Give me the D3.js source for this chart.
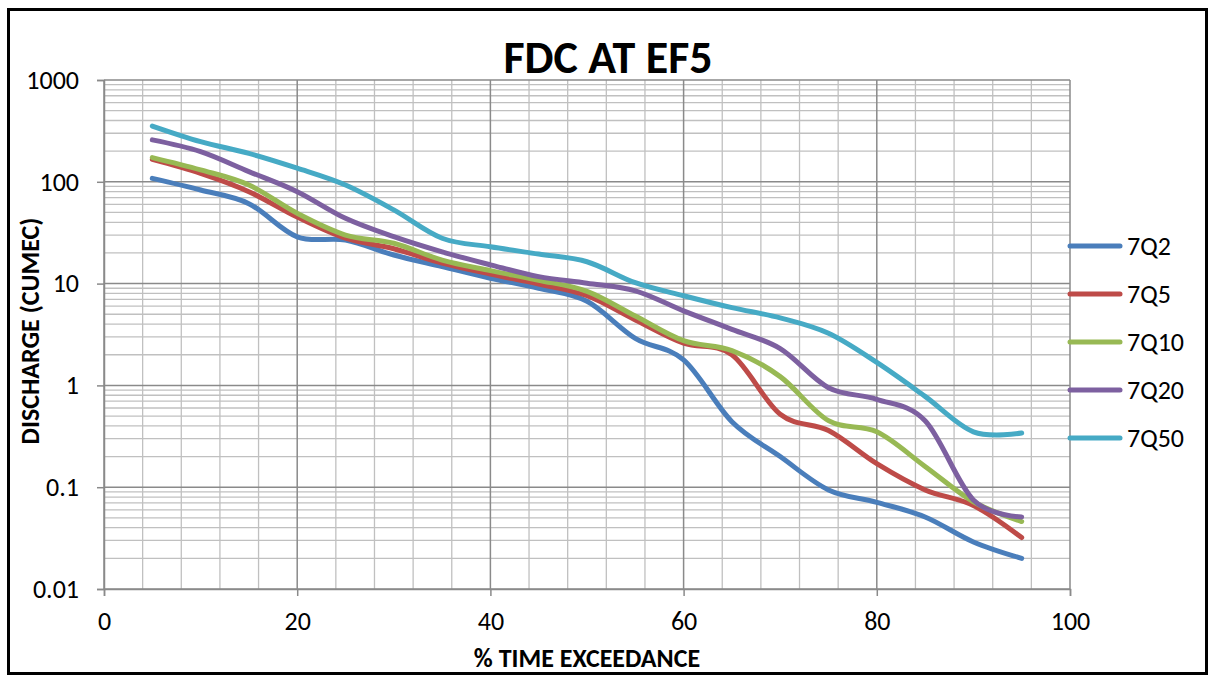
<!DOCTYPE html>
<html>
<head>
<meta charset="utf-8">
<script src="https://cdn.jsdelivr.net/npm/d3@7"></script>
<style>
  html, body { margin: 0; padding: 0; background: #fff; }
  svg { display: block; }
  text { font-family: Carlito, Calibri, "Liberation Sans", Arial, sans-serif; }
</style>
</head>
<body>
<svg id="chart" width="1211" height="675"></svg>
<script>
// ---- data ----
const exceedance = [5, 10, 15, 20, 25, 30, 35, 40, 45, 50, 55, 60, 65, 70, 75, 80, 85, 90, 95];
const seriesNames = ["7Q2", "7Q5", "7Q10", "7Q20", "7Q50"];
const q7q2  = [108, 83, 61, 28.8, 26.8, 19.1, 14.7, 11.3, 9.0, 6.7, 2.9, 1.78, 0.44, 0.2, 0.094, 0.071, 0.051, 0.029, 0.020];
const q7q5  = [166, 121, 80, 45, 27.9, 22, 15.9, 12.4, 9.9, 7.6, 4.4, 2.6, 2.0, 0.52, 0.36, 0.17, 0.094, 0.066, 0.032];
const q7q10 = [173, 131, 93, 49, 30, 24.9, 17, 13.4, 10.8, 8.4, 4.8, 2.75, 2.2, 1.22, 0.45, 0.35, 0.16, 0.072, 0.046];
const q7q20 = [258, 198, 126, 80, 43.8, 28.9, 20.5, 15.3, 11.7, 10.1, 8.5, 5.4, 3.55, 2.3, 0.95, 0.73, 0.45, 0.075, 0.051];
const q7q50 = [353, 248, 190, 136, 93, 53, 27.9, 23, 19.5, 16.4, 10.2, 7.6, 5.8, 4.6, 3.25, 1.68, 0.78, 0.35, 0.34];
const seriesColors = ["#4A7EBB", "#BE4B48", "#98B954", "#7D60A0", "#46AAC5"];
const xTicks = [0, 20, 40, 60, 80, 100];
const yTicks = [0.01, 0.1, 1, 10, 100, 1000];
const yTickLabels = ["0.01", "0.1", "1", "10", "100", "1000"];
const chartTitle = "FDC AT EF5";
const xTitle = "% TIME EXCEEDANCE";
const yTitle = "DISCHARGE (CUMEC)";

const allSeries = [q7q2, q7q5, q7q10, q7q20, q7q50];

// ---- layout ----
const svg = d3.select("#chart");
const pL = 104, pR = 1070, pT = 80, pB = 589;
const fontStack = 'Carlito, Calibri, "Liberation Sans", Arial, sans-serif';

const x = d3.scaleLinear().domain([0, 100]).range([pL, pR]);
const y = d3.scaleLog().domain([0.01, 1000]).range([pB, pT]);

// outer frame
svg.append("rect").attr("x", 8.5).attr("y", 9.5).attr("width", 1198).attr("height", 664)
  .attr("fill", "#fff").attr("stroke", "#000").attr("stroke-width", 3);

// minor gridlines
const g = svg.append("g");
const minorX = d3.range(4, 100, 4).filter(v => v % 20 !== 0);
g.selectAll(".mx").data(minorX).enter().append("line")
  .attr("x1", d => x(d)).attr("x2", d => x(d)).attr("y1", pT).attr("y2", pB)
  .attr("stroke", "#c0c0c0").attr("stroke-width", 1.3);
const minorY = [];
[0.01, 0.1, 1, 10, 100].forEach(dec => { for (let k = 2; k <= 9; k++) minorY.push(dec * k); });
g.selectAll(".my").data(minorY).enter().append("line")
  .attr("x1", pL).attr("x2", pR).attr("y1", d => y(d)).attr("y2", d => y(d))
  .attr("stroke", "#c0c0c0").attr("stroke-width", 1.3);
// major gridlines
g.selectAll(".Mx").data(xTicks).enter().append("line")
  .attr("x1", d => x(d)).attr("x2", d => x(d)).attr("y1", pT).attr("y2", pB)
  .attr("stroke", "#8a8a8a").attr("stroke-width", 1.5);
g.selectAll(".My").data(yTicks).enter().append("line")
  .attr("x1", pL).attr("x2", pR).attr("y1", d => y(d)).attr("y2", d => y(d))
  .attr("stroke", "#8a8a8a").attr("stroke-width", 1.5);

// axes
const xAxis = d3.axisBottom(x).tickValues(xTicks).tickSize(7).tickPadding(16).tickFormat(d3.format("d"));
const yAxis = d3.axisLeft(y).tickValues(yTicks).tickSize(7).tickPadding(18)
  .tickFormat((d, i) => yTickLabels[i]);
const gx = svg.append("g").attr("transform", `translate(0,${pB})`).call(xAxis);
const gy = svg.append("g").attr("transform", `translate(${pL},0)`).call(yAxis);
[gx, gy].forEach(a => {
  a.select(".domain").attr("stroke", "#8a8a8a").attr("stroke-width", 1.5);
  a.selectAll(".tick line").attr("stroke", "#8a8a8a").attr("stroke-width", 1.5);
  a.selectAll(".tick text").attr("font-size", 26).attr("fill", "#000")
    .style("font-family", fontStack);
});

// lines
const line = d3.line()
  .x((d, i) => x(exceedance[i]))
  .y(d => y(d))
  .curve(d3.curveCardinal.tension(0));
svg.append("g").selectAll("path").data(allSeries).enter().append("path")
  .attr("d", d => line(d))
  .attr("fill", "none")
  .attr("stroke", (d, i) => seriesColors[i])
  .attr("stroke-width", 5)
  .attr("stroke-linecap", "round")
  .attr("stroke-linejoin", "round");

// title
svg.append("text").attr("x", 608).attr("y", 73).attr("text-anchor", "middle")
  .attr("font-size", 46).attr("font-weight", "bold").text(chartTitle);

// axis titles
svg.append("text").attr("x", 587).attr("y", 667).attr("text-anchor", "middle")
  .attr("font-size", 26).attr("font-weight", "bold").text(xTitle);
svg.append("text").attr("transform", "translate(39,331) rotate(-90)").attr("text-anchor", "middle")
  .attr("font-size", 26).attr("font-weight", "bold").text(yTitle);

// legend
const lg = svg.append("g");
const legY = d3.scalePoint().domain(seriesNames).range([246, 438]);
seriesNames.forEach((name, i) => {
  lg.append("line").attr("x1", 1070).attr("x2", 1120)
    .attr("y1", legY(name)).attr("y2", legY(name))
    .attr("stroke", seriesColors[i]).attr("stroke-width", 5).attr("stroke-linecap", "round");
  lg.append("text").attr("x", 1127).attr("y", legY(name)).attr("dy", "0.35em")
    .attr("font-size", 26).text(name);
});
</script>
</body>
</html>
